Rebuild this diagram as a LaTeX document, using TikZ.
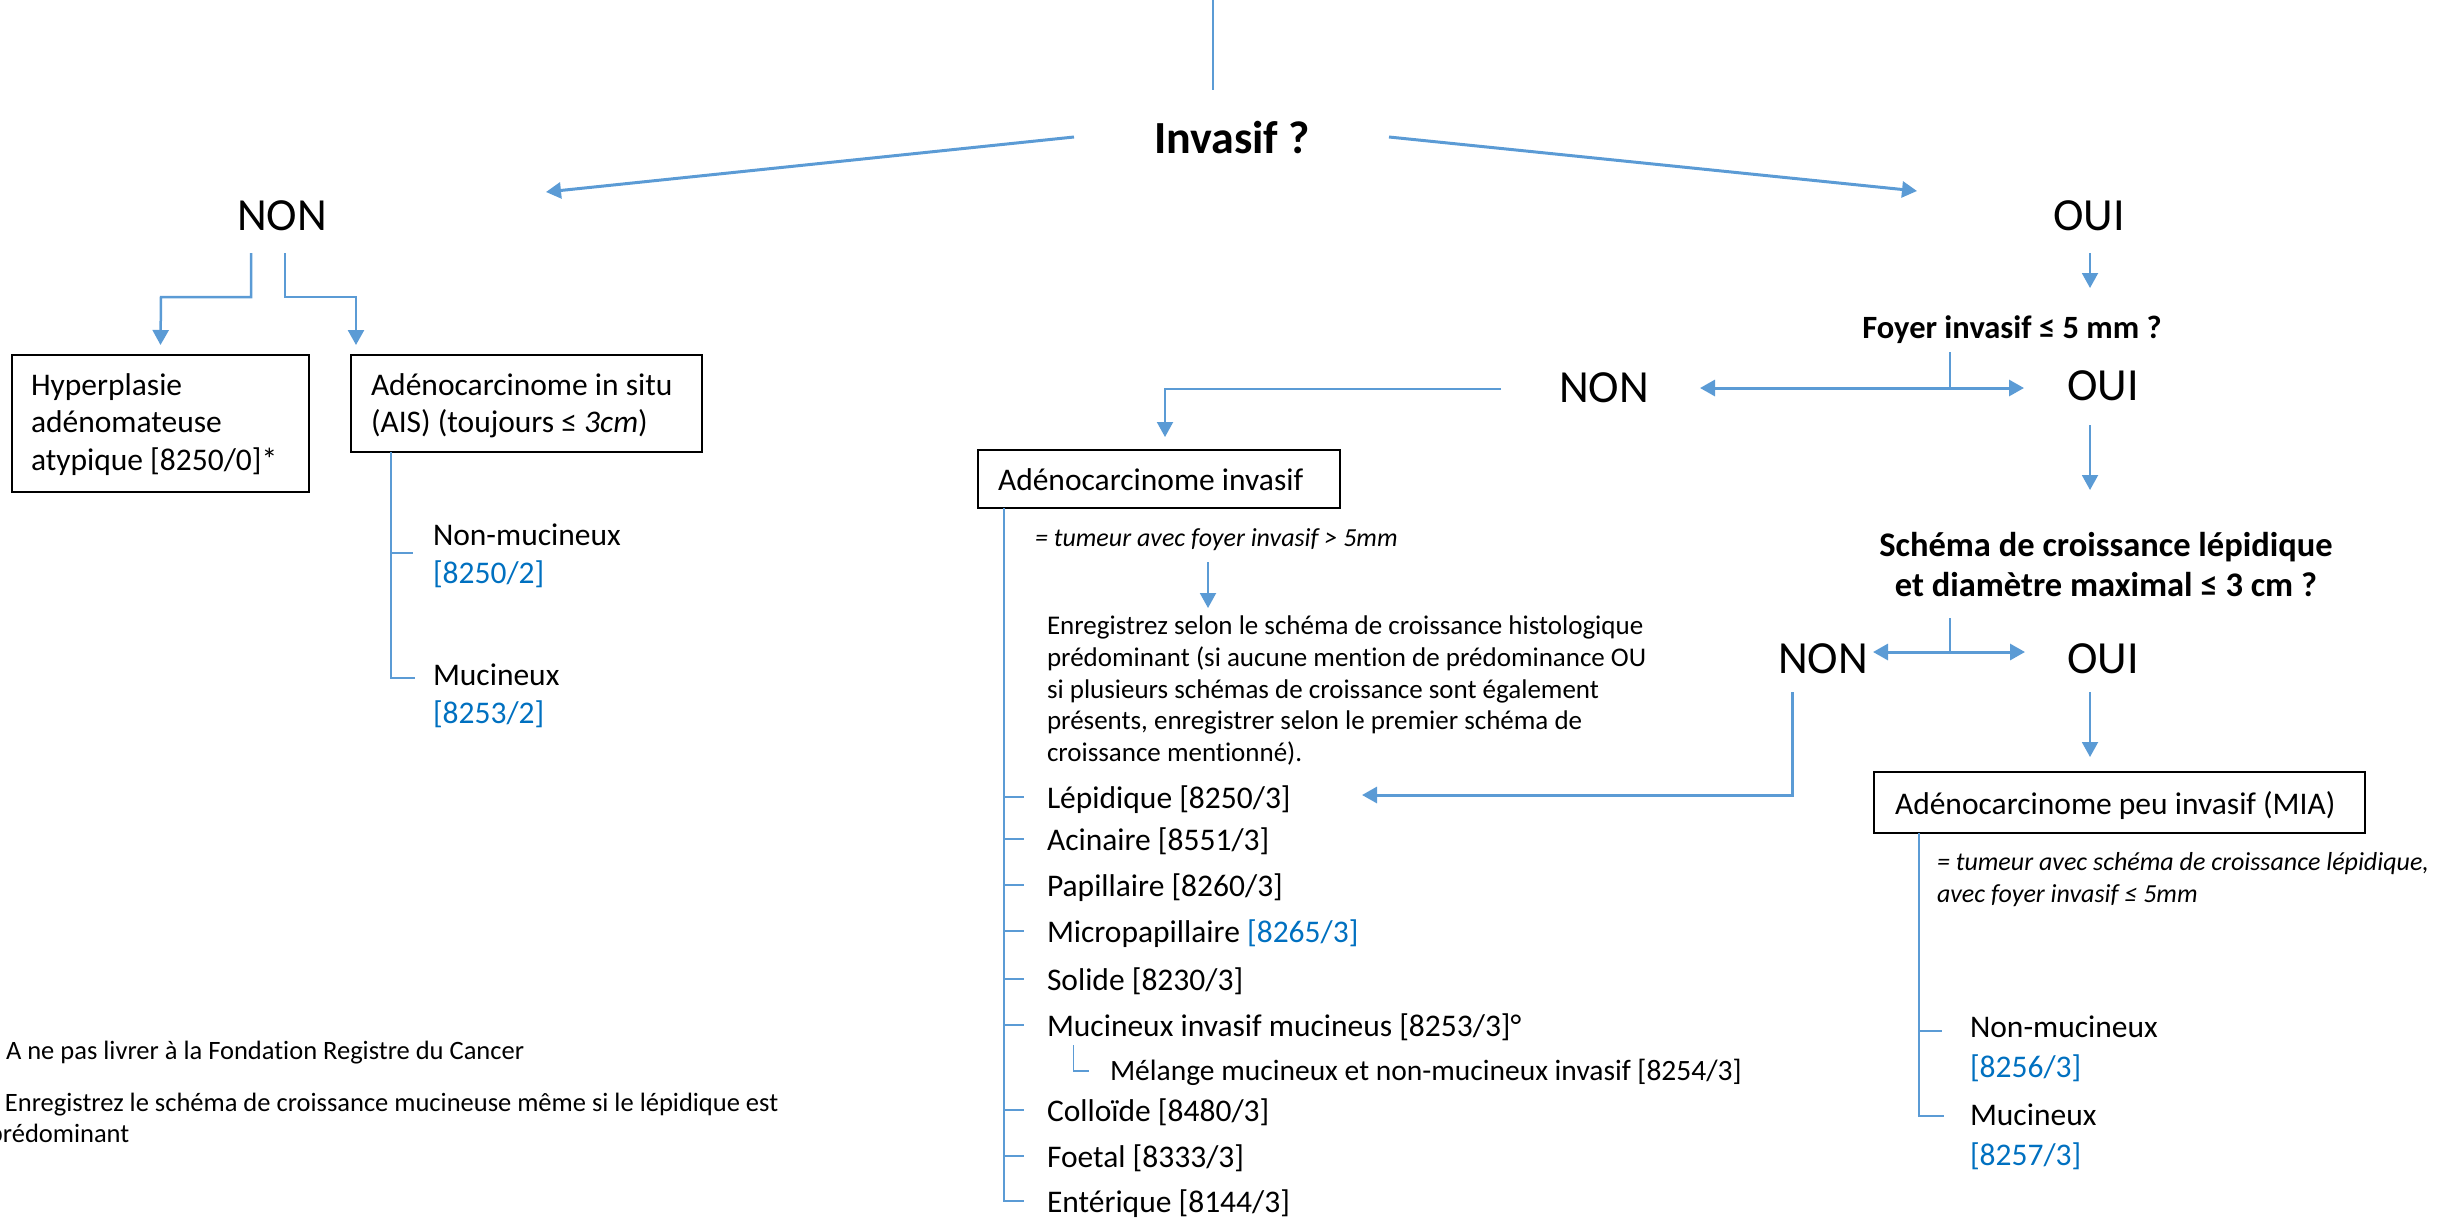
\documentclass[tikz,border=0pt]{standalone}
\usepackage{fontspec}
\setmainfont{Carlito}[Ligatures={NoCommon}]
\usetikzlibrary{arrows.meta}
\definecolor{lineblue}{HTML}{5B9BD5}
\definecolor{codeblue}{HTML}{0070C0}
\newcommand\myfs[2]{\fontsize{#1pt}{#2pt}\selectfont}
\begin{document}
\begin{tikzpicture}[x=1pt,y=-1pt,
  t/.style={inner sep=0pt,outer sep=0pt,anchor=base west},
  tc/.style={inner sep=0pt,outer sep=0pt,anchor=base},
  ans/.style={tc,font=\myfs{46}{50}},
  qbig/.style={tc,font=\bfseries\myfs{46}{50}},
  qmid/.style={tc,font=\bfseries\myfs{32.5}{38}},
  qsch/.style={tc,font=\bfseries\myfs{34.5}{40}},
  fl/.style={t,font=\myfs{31.5}{36}},
  fmel/.style={t,font=\myfs{29.5}{34}},
  fs/.style={t,font=\myfs{26.5}{32}},
  fenr/.style={t,font=\myfs{27}{32}},
  fi/.style={t,font=\itshape\myfs{26}{32}},
  code/.style={text=codeblue},
  boxnode/.style={draw=black,line width=2.5pt,inner sep=0pt,outer sep=0pt,anchor=north west},
  thinl/.style={draw=lineblue,line width=1.5pt},
  midl/.style={draw=lineblue,line width=2pt},
  thickl/.style={draw=lineblue,line width=3pt},
  arr/.style={-{Triangle[length=15pt,width=16pt]}},
  dbl/.style={{Triangle[length=15pt,width=16pt]}-{Triangle[length=15pt,width=16pt]}}
]
\useasboundingbox (0,0) rectangle (2460,1219);

% ---------- decision texts ----------
\node[qbig] (invasif) at (1232,153) {Invasif ?};
\node[ans] (non1) at (282,230) {NON};
\node[ans] (oui1) at (2089,230) {OUI};
\node[qmid] (foyer) at (2012,338) {Foyer invasif ≤ 5 mm ?};
\node[ans] (non2) at (1604,402) {NON};
\node[ans] (oui2) at (2103,400) {OUI};
\node[qsch] (schema1) at (2106,556) {Schéma de croissance lépidique};
\node[qsch] (schema2) at (2106,596) {et diamètre maximal ≤ 3 cm ?};
\node[ans] (non3) at (1823,673) {NON};
\node[ans] (oui3) at (2103,673) {OUI};

% ---------- boxes ----------
\node[boxnode,minimum width=297pt,minimum height=137pt] (hypbox) at (12,355) {};
\node[fl] (hyp1) at (31,395) {Hyperplasie};
\node[fl] (hyp2) at (31,432) {adénomateuse};
\node[fl] (hyp3) at (31,470) {atypique [8250/0]*};

\node[boxnode,minimum width=351pt,minimum height=97pt] (aisbox) at (351,355) {};
\node[fl] (ais1) at (371,395) {Adénocarcinome in situ};
\node[fl] (ais2) at (371,432) {(AIS) (toujours ≤ \textit{3cm})};

\node[fl] (aisnm) at (433,545) {Non-mucineux};
\node[fl,code] (aisnmc) at (433,583) {[8250/2]};
\node[fl] (aism) at (433,685) {Mucineux};
\node[fl,code] (aismc) at (433,723) {[8253/2]};

\node[boxnode,minimum width=362pt,minimum height=58pt] (invbox) at (978,450) {};
\node[fl] (invtxt) at (998,490) {Adénocarcinome invasif};
\node[fi] (invdef) at (1035,546) {= tumeur avec foyer invasif > 5mm};

\node[fenr] (enr1) at (1047,634) {Enregistrez selon le schéma de croissance histologique};
\node[fenr] (enr2) at (1047,666) {prédominant (si aucune mention de prédominance OU};
\node[fenr] (enr3) at (1047,698) {si plusieurs schémas de croissance sont également};
\node[fenr] (enr4) at (1047,729) {présents, enregistrer selon le premier schéma de};
\node[fenr] (enr5) at (1047,761) {croissance mentionné).};

\node[fl] (lep) at (1047,808) {Lépidique [8250/3]};
\node[fl] (aci) at (1047,850) {Acinaire [8551/3]};
\node[fl] (pap) at (1047,896) {Papillaire [8260/3]};
\node[fl] (mpap) at (1047,942) {Micropapillaire \textcolor{codeblue}{[8265/3]}};
\node[fl] (sol) at (1047,990) {Solide [8230/3]};
\node[fl] (muc) at (1047,1036) {Mucineux invasif mucineus [8253/3]°};
\node[fmel] (mel) at (1110,1080) {Mélange mucineux et non-mucineux invasif [8254/3]};
\node[fl] (col) at (1047,1121) {Colloïde [8480/3]};
\node[fl] (foe) at (1047,1167) {Foetal [8333/3]};
\node[fl] (ent) at (1047,1212) {Entérique [8144/3]};

\node[boxnode,minimum width=491pt,minimum height=61pt] (miabox) at (1874,772) {};
\node[fl] (miatxt) at (1895,814) {Adénocarcinome peu invasif (MIA)};
\node[fi] (miadef1) at (1937,870) {= tumeur avec schéma de croissance lépidique,};
\node[fi] (miadef2) at (1937,902) {avec foyer invasif ≤ 5mm};
\node[fl] (mianm) at (1970,1037) {Non-mucineux};
\node[fl,code] (mianmc) at (1970,1077) {[8256/3]};
\node[fl] (miam) at (1970,1125) {Mucineux};
\node[fl,code] (miamc) at (1970,1165) {[8257/3]};

% ---------- footnotes ----------
\node[fs] (fn1) at (6,1059) {A ne pas livrer à la Fondation Registre du Cancer};
\node[fs] (fn2a) at (5,1111) {Enregistrez le schéma de croissance mucineuse même si le lépidique est};
\node[fs] (fn2b) at (-11,1142) {prédominant};

% ---------- coordinates ----------
\coordinate (topA) at (1213,0);
\coordinate (topB) at (1213,90);
\coordinate (invL) at (1074,137);
\coordinate (invR) at (1389,137);
\coordinate (non1tip) at (546,192);
\coordinate (oui1tip) at (1917,191);

% ---------- connectors ----------
\draw[thinl] (topA) -- (topB);
\draw[thickl,arr] (invL) -- (non1tip);
\draw[thickl,arr] (invR) -- (oui1tip);

% NON (left) branches
\draw[midl,line width=2.5pt,arr] (251,253) -- (251,297) -- (161,297) -- (hypbox.north |- 0,345);
\draw[midl,line width=2.5pt,arr] (285,253) -- (285,297) -- (356,297) -- (356,345);

% AIS tree
\draw[thinl] (aisbox.south west -| 391,0) -- (391,678) -- (415,678);
\draw[thinl] (391,553) -- (413,553);

% OUI -> Foyer
\draw[midl,arr] (2090,253) -- (2090,288);
% Foyer split
\draw[thinl] (1950,352) -- (1950,388);
\draw[thickl,dbl] (1700,388) -- (2024,388);
% NON2 -> Adenocarcinome invasif
\draw[midl,arr] (1501,389) -- (1165,389) -- (1165,437);
% OUI2 -> Schema
\draw[midl,arr] (2090,425) -- (2090,490);
% Schema split
\draw[thinl] (1950,618) -- (1950,652);
\draw[thickl,dbl] (1873,652) -- (2025,652);
% NON3 -> Lepidique
\draw[thickl,arr] (1792,692) -- (1792,795) -- (1362,795);
% OUI3 -> MIA
\draw[midl,arr] (2090,692) -- (2090,757);

% invasive tree
\draw[thinl] (1004,508) -- (1004,1201) -- (1024,1201);
\foreach \yy in {797,839,885,931,979,1025,1110,1156}
  \draw[thinl] (1004,\yy) -- (1024,\yy);
\draw[thinl] (1073.5,1045) -- (1073.5,1071) -- (1088.5,1071);
\draw[midl,arr] (1208,562) -- (1208,608);

% MIA tree
\draw[thinl] (1919,833) -- (1919,1116) -- (1944,1116);
\draw[thinl] (1919,1031) -- (1942,1031);
\end{tikzpicture}
\end{document}
